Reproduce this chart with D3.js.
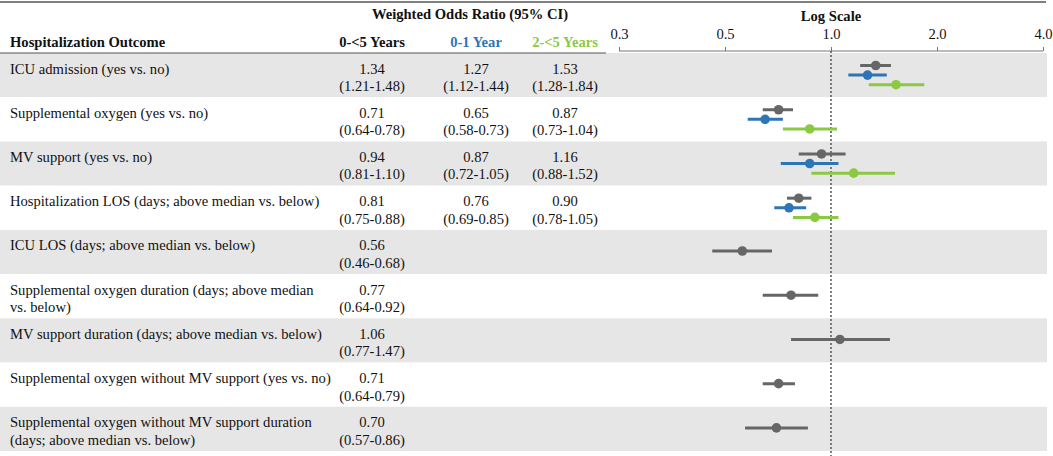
<!DOCTYPE html>
<html>
<head>
<meta charset="utf-8">
<script src="https://cdn.jsdelivr.net/npm/d3@7"></script>
<style>
  body { margin: 0; background: #fff; }
</style>
</head>
<body>
<div id="chart"></div>
<script>
// outcomes (rows)
var outcomes = [
  ["ICU admission (yes vs. no)"],
  ["Supplemental oxygen (yes vs. no)"],
  ["MV support (yes vs. no)"],
  ["Hospitalization LOS (days; above median vs. below)"],
  ["ICU LOS (days; above median vs. below)"],
  ["Supplemental oxygen duration (days; above median", "vs. below)"],
  ["MV support duration (days; above median vs. below)"],
  ["Supplemental oxygen without MV support (yes vs. no)"],
  ["Supplemental oxygen without MV support duration", "(days; above median vs. below)"]
];

// series: odds ratio, lower, upper
var groupNames = ["0-<5 Years", "0-1 Year", "2-<5 Years"];
var groupColors = ["#666666", "#2e75b6", "#8cc943"];

var orAll = [1.34, 0.71, 0.94, 0.81, 0.56, 0.77, 1.06, 0.71, 0.70];
var loAll = [1.21, 0.64, 0.81, 0.75, 0.46, 0.64, 0.77, 0.64, 0.57];
var hiAll = [1.48, 0.78, 1.10, 0.88, 0.68, 0.92, 1.47, 0.79, 0.86];

var orInf = [1.27, 0.65, 0.87, 0.76];
var loInf = [1.12, 0.58, 0.72, 0.69];
var hiInf = [1.44, 0.73, 1.05, 0.85];

var orTod = [1.53, 0.87, 1.16, 0.90];
var loTod = [1.28, 0.73, 0.88, 0.78];
var hiTod = [1.84, 1.04, 1.52, 1.05];

// axis ticks
var tickValues = [0.25, 0.5, 1, 2, 4];
var tickLabels = ["0.3", "0.5", "1.0", "2.0", "4.0"];

var svgWidth = 1053;
var svgHeight = 456;
var fontFamily = "'Liberation Serif', 'Times New Roman', serif";
var fontSize = "14.6px";

var svg = d3.select("#chart")
  .append("svg")
  .attr("width", svgWidth)
  .attr("height", svgHeight)
  .style("font-family", fontFamily)
  .style("font-size", fontSize);

var series = [
  { name: groupNames[0], color: groupColors[0], or: orAll, lo: loAll, hi: hiAll, col: 372 },
  { name: groupNames[1], color: groupColors[1], or: orInf, lo: loInf, hi: hiInf, col: 476 },
  { name: groupNames[2], color: groupColors[2], or: orTod, lo: loTod, hi: hiTod, col: 565 }
];

var xScale = d3.scaleLog()
  .base(2)
  .domain([0.25, 4])
  .range([619, 1043]);

var yScale = d3.scaleBand()
  .domain(d3.range(outcomes.length))
  .range([53, 451]);

var rowH = yScale.bandwidth();

// row bands
svg.selectAll("rect.band")
  .data(outcomes)
  .enter()
  .append("rect")
  .attr("class", "band")
  .attr("x", 0)
  .attr("y", (d, i) => yScale(i))
  .attr("width", 1047)
  .attr("height", rowH)
  .attr("fill", (d, i) => i % 2 === 0 ? "#e6e6e6" : "#ffffff");

// top rule
svg.append("line")
  .attr("x1", 0).attr("x2", 1046)
  .attr("y1", 2).attr("y2", 2)
  .attr("stroke", "#555").attr("stroke-width", 1.5);

// header rule under table
svg.append("line")
  .attr("x1", 0).attr("x2", 606)
  .attr("y1", 53).attr("y2", 53)
  .attr("stroke", "#555").attr("stroke-width", 1);

// headers
svg.append("text")
  .attr("x", 470).attr("y", 19)
  .attr("text-anchor", "middle")
  .attr("font-weight", "bold")
  .attr("fill", "#111")
  .text("Weighted Odds Ratio (95% CI)");

svg.append("text")
  .attr("x", 10).attr("y", 46.5)
  .attr("font-weight", "bold")
  .attr("fill", "#111")
  .text("Hospitalization Outcome");

svg.selectAll("text.colhead")
  .data(series)
  .enter()
  .append("text")
  .attr("class", "colhead")
  .attr("x", d => d.col)
  .attr("y", 46.5)
  .attr("text-anchor", "middle")
  .attr("font-weight", "bold")
  .attr("fill", (d, i) => i === 0 ? "#111" : d.color)
  .text(d => d.name);

svg.append("text")
  .attr("x", xScale(1)).attr("y", 21)
  .attr("text-anchor", "middle")
  .attr("font-weight", "bold")
  .attr("fill", "#111")
  .text("Log Scale");

// axis
var xAxis = d3.axisTop(xScale)
  .tickValues(tickValues)
  .tickFormat((d, i) => tickLabels[i])
  .tickSize(4)
  .tickPadding(8);

var axisG = svg.append("g")
  .attr("transform", "translate(0, 51)")
  .call(xAxis)
  .attr("font-family", fontFamily)
  .attr("font-size", fontSize);
axisG.select(".domain").attr("stroke", "#777").attr("d", "M619,0H1043");
axisG.selectAll(".tick line").attr("stroke", "#777");
axisG.selectAll(".tick text").attr("fill", "#111");

// outcome labels
outcomes.forEach(function(lines, i) {
  lines.forEach(function(line, j) {
    svg.append("text")
      .attr("x", 10)
      .attr("y", yScale(i) + 20.5 + j * 17.5)
      .attr("fill", "#111")
      .text(line);
  });
});

// table values
series.forEach(function(s) {
  s.or.forEach(function(v, i) {
    svg.append("text")
      .attr("x", s.col)
      .attr("y", yScale(i) + 20.5)
      .attr("text-anchor", "middle")
      .attr("fill", "#111")
      .text(v.toFixed(2));
    svg.append("text")
      .attr("x", s.col)
      .attr("y", yScale(i) + 38)
      .attr("text-anchor", "middle")
      .attr("fill", "#111")
      .text("(" + s.lo[i].toFixed(2) + "-" + s.hi[i].toFixed(2) + ")");
  });
});

// reference line at 1.0
svg.append("line")
  .attr("x1", xScale(1)).attr("x2", xScale(1))
  .attr("y1", 51).attr("y2", svgHeight)
  .attr("stroke", "#555")
  .attr("stroke-width", 1.5)
  .attr("stroke-dasharray", "2,2");

// forest marks
series.forEach(function(s, k) {
  var g = svg.append("g");
  s.or.forEach(function(v, i) {
    var multi = i < orInf.length;
    var cy = yScale(i) + rowH / 2 + (multi ? (k - 1) * 9.6 : -1);
    g.append("line")
      .attr("x1", xScale(s.lo[i]))
      .attr("x2", xScale(s.hi[i]))
      .attr("y1", cy).attr("y2", cy)
      .attr("stroke", s.color)
      .attr("stroke-width", 3);
    g.append("circle")
      .attr("cx", xScale(v))
      .attr("cy", cy)
      .attr("r", 4.8)
      .attr("fill", s.color);
  });
});
</script>
</body>
</html>
